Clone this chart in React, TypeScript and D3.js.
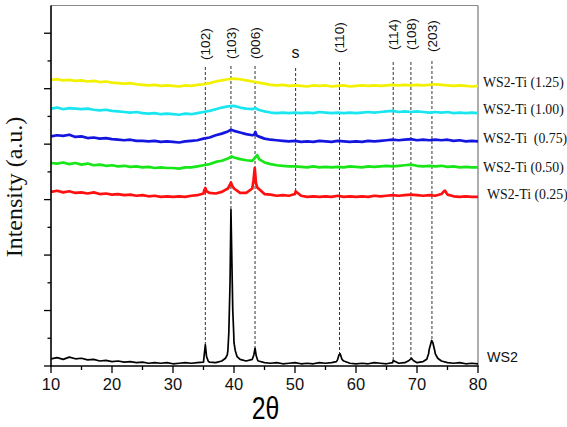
import * as d3 from 'd3'

// 2θ grid for the baseline readings (one reading per degree, 10..80)
const baseAngles = d3.range(10, 81)

const seriesNames = ['WS2', 'WS2-Ti (0.25)', 'WS2-Ti (0.50)', 'WS2-Ti  (0.75)', 'WS2-Ti (1.00)', 'WS2-Ti (1.25)']
const seriesColors = ['#000000', '#ff1010', '#19e619', '#1515e0', '#19e6f0', '#f2f200']

// baseline intensities (a.u., one tick = 1)
const ws2Base = [
  0.13, 0.15, 0.12, 0.16, 0.13, 0.14, 0.11, 0.12, 0.09, 0.10,
  0.08, 0.09, 0.07, 0.08, 0.06, 0.07, 0.05, 0.06, 0.05, 0.06,
  0.04, 0.05, 0.06, 0.05, 0.06, 0.07, 0.07, 0.06, 0.09, 0.28,
  0.42, 0.12, 0.09, 0.12, 0.09, 0.06, 0.05, 0.06, 0.04, 0.05,
  0.06, 0.04, 0.05, 0.04, 0.06, 0.05, 0.06, 0.12, 0.09, 0.05,
  0.04, 0.05, 0.04, 0.06, 0.05, 0.04, 0.06, 0.05, 0.06, 0.13,
  0.06, 0.08, 0.30, 0.22, 0.09, 0.06, 0.05, 0.06, 0.04, 0.05,
  0.04,
]
const ws2Peaks: [number, number][] = [
  [35.1, 0.18], [35.3, 0.38], [35.5, 0.17], [35.8, 0.08],
  [38.6, 0.14], [38.9, 0.2], [39.15, 0.6], [39.35, 1.5], [39.5, 2.82], [39.65, 1.9],
  [39.8, 1.0], [39.95, 0.6], [40.2, 0.28], [40.5, 0.17],
  [43.25, 0.2], [43.45, 0.32], [43.65, 0.18], [43.9, 0.1],
  [56.8, 0.08], [57.2, 0.2], [57.4, 0.22], [57.7, 0.12],
  [66.1, 0.1], [68.7, 0.1], [69.1, 0.14], [69.4, 0.1],
  [71.6, 0.12], [71.9, 0.22], [72.2, 0.38], [72.4, 0.46], [72.6, 0.42], [72.9, 0.28], [73.4, 0.14],
]

const ti025Base = [
  3.14, 3.16, 3.13, 3.15, 3.12, 3.13, 3.11, 3.13, 3.10, 3.11,
  3.09, 3.10, 3.08, 3.09, 3.07, 3.08, 3.06, 3.07, 3.05, 3.06,
  3.05, 3.06, 3.05, 3.07, 3.08, 3.11, 3.12, 3.11, 3.14, 3.20,
  3.20, 3.12, 3.12, 3.20, 3.20, 3.10, 3.09, 3.07, 3.08, 3.07,
  3.10, 3.07, 3.05, 3.06, 3.05, 3.06, 3.05, 3.07, 3.05, 3.06,
  3.05, 3.06, 3.05, 3.07, 3.06, 3.07, 3.08, 3.07, 3.08, 3.09,
  3.08, 3.07, 3.08, 3.07, 3.10, 3.09, 3.06, 3.05, 3.06, 3.05,
  3.05,
]
const ti025Peaks: [number, number][] = [
  [35.1, 3.16], [35.3, 3.21], [35.5, 3.15], [39.3, 3.26], [39.5, 3.31], [39.7, 3.25],
  [43.2, 3.35], [43.4, 3.57], [43.6, 3.3], [43.8, 3.22], [50.1, 3.15], [74.4, 3.15], [74.6, 3.16],
]

const ti050Base = [
  3.66, 3.65, 3.67, 3.64, 3.66, 3.63, 3.65, 3.62, 3.63, 3.61,
  3.62, 3.60, 3.61, 3.59, 3.60, 3.58, 3.59, 3.57, 3.58, 3.57,
  3.57, 3.56, 3.58, 3.58, 3.60, 3.62, 3.64, 3.68, 3.70, 3.74,
  3.76, 3.73, 3.71, 3.70, 3.76, 3.67, 3.64, 3.62, 3.61, 3.60,
  3.60, 3.59, 3.58, 3.60, 3.58, 3.59, 3.58, 3.59, 3.58, 3.60,
  3.59, 3.58, 3.60, 3.59, 3.60, 3.61, 3.60, 3.61, 3.62, 3.63,
  3.61, 3.60, 3.61, 3.60, 3.61, 3.59, 3.60, 3.58, 3.59, 3.58,
  3.58,
]
const ti050Peaks: [number, number][] = [[39.6, 3.78], [43.8, 3.8], [44.1, 3.73]]

const ti075Base = [
  4.14, 4.16, 4.15, 4.17, 4.13, 4.14, 4.11, 4.12, 4.10, 4.11,
  4.09, 4.08, 4.07, 4.08, 4.06, 4.06, 4.05, 4.06, 4.04, 4.05,
  4.04, 4.03, 4.05, 4.06, 4.07, 4.10, 4.12, 4.16, 4.19, 4.23,
  4.24, 4.21, 4.18, 4.16, 4.14, 4.10, 4.08, 4.07, 4.06, 4.05,
  4.06, 4.04, 4.05, 4.04, 4.06, 4.05, 4.04, 4.06, 4.05, 4.04,
  4.05, 4.04, 4.06, 4.05, 4.06, 4.07, 4.08, 4.07, 4.08, 4.09,
  4.07, 4.08, 4.07, 4.08, 4.07, 4.08, 4.06, 4.07, 4.05, 4.06,
  4.05,
]
const ti075Peaks: [number, number][] = [[39.5, 4.26], [43.3, 4.17], [43.5, 4.22], [43.7, 4.16]]

const ti100Base = [
  4.64, 4.66, 4.63, 4.65, 4.64, 4.63, 4.64, 4.62, 4.61, 4.62,
  4.60, 4.59, 4.58, 4.57, 4.58, 4.56, 4.55, 4.56, 4.54, 4.55,
  4.54, 4.53, 4.55, 4.54, 4.56, 4.58, 4.60, 4.63, 4.66, 4.68,
  4.69, 4.66, 4.64, 4.63, 4.62, 4.59, 4.57, 4.56, 4.57, 4.56,
  4.57, 4.56, 4.57, 4.56, 4.58, 4.57, 4.56, 4.57, 4.56, 4.57,
  4.56, 4.57, 4.58, 4.57, 4.58, 4.59, 4.60, 4.58, 4.59, 4.58,
  4.59, 4.58, 4.57, 4.58, 4.57, 4.58, 4.56, 4.57, 4.56, 4.57,
  4.56,
]
const ti100Peaks: [number, number][] = [[43.5, 4.65]]

const ti125Base = [
  5.16, 5.17, 5.15, 5.16, 5.14, 5.15, 5.13, 5.14, 5.12, 5.13,
  5.11, 5.10, 5.09, 5.10, 5.08, 5.07, 5.06, 5.07, 5.05, 5.06,
  5.05, 5.04, 5.06, 5.05, 5.07, 5.08, 5.10, 5.13, 5.15, 5.17,
  5.18, 5.17, 5.15, 5.13, 5.11, 5.09, 5.07, 5.06, 5.07, 5.05,
  5.06, 5.05, 5.04, 5.06, 5.05, 5.06, 5.04, 5.05, 5.06, 5.04,
  5.05, 5.06, 5.05, 5.06, 5.05, 5.06, 5.07, 5.06, 5.07, 5.06,
  5.07, 5.06, 5.07, 5.08, 5.07, 5.06, 5.05, 5.06, 5.05, 5.04,
  5.05,
]
const ti125Peaks: [number, number][] = [[43.5, 5.12]]

// reflections marked with dashed lines
const reflectionPos = [35.3, 39.5, 43.45, 50.1, 57.3, 66.1, 69.0, 72.45]
const reflectionLabels = ['(102)', '(103)', '(006)', 's', '(110)', '(114)', '(108)', '(203)']
const reflectionTrace = [0, 0, 0, 1, 0, 0, 0, 0]

const xTicks = [10, 20, 30, 40, 50, 60, 70, 80]
const xMinorTicks = [15, 25, 35, 45, 55, 65, 75]
const yTicks = [0, 1, 2, 3, 4, 5, 6]
const yMinorTicks = [0.5, 1.5, 2.5, 3.5, 4.5, 5.5]

const merge = (base: number[], peaks: [number, number][]) =>
  base
    .map((v, i) => [baseAngles[i], v] as [number, number])
    .concat(peaks)
    .sort((a, b) => a[0] - b[0])

const series = [
  merge(ws2Base, ws2Peaks),
  merge(ti025Base, ti025Peaks),
  merge(ti050Base, ti050Peaks),
  merge(ti075Base, ti075Peaks),
  merge(ti100Base, ti100Peaks),
  merge(ti125Base, ti125Peaks),
]

const W = 567
const H = 427
const left = 51
const right = 478
const top = 5.5
const bottom = 366

const sans = "'Liberation Sans', Arial, sans-serif"
const serif = "'Liberation Serif', 'Times New Roman', serif"

export default function App() {
  const x = d3.scaleLinear().domain([10, 80]).range([left, right])
  const y = d3.scaleLinear().domain([0, 6.5]).range([bottom, top])
  const line = d3.line<[number, number]>().x(d => x(d[0])).y(d => y(d[1]))

  // peak value of a trace near a reflection, where its dashed line stops
  const valueNear = (pts: [number, number][], pos: number) =>
    d3.max(pts.filter(p => Math.abs(p[0] - pos) <= 0.35), p => p[1]) ?? 0

  // where the rotated labels start and the dashed lines begin (px)
  const labelBase = [60, 59, 59, 58, 53, 50, 50, 52]
  const lineTop = [67, 66, 66, 68, 62, 62, 62, 61]
  const legendY = [362, 198.5, 171.5, 142.5, 113.5, 86.5]
  const legendX = [487, 487, 483, 483, 483, 483]

  return (
    <svg width={W} height={H} style={{ position: 'absolute', left: 0, top: 0, background: '#fff' }}>
      {/* frame */}
      <line x1={left} x2={right} y1={top} y2={top} stroke="#8a8a8a" strokeWidth={1.2} />
      <line x1={right} x2={right} y1={top} y2={bottom} stroke="#8a8a8a" strokeWidth={1.4} />

      {/* reflection markers */}
      {reflectionPos.map((p, i) => (
        <g key={'r' + i}>
          <line
            x1={x(p)} x2={x(p)} y1={lineTop[i]}
            y2={y(valueNear(series[reflectionTrace[i]], p))}
            stroke="#333" strokeWidth={1} strokeDasharray="3,2"
          />
          {reflectionLabels[i] === 's' ? (
            <text x={x(p)} y={labelBase[i]} textAnchor="middle" fontFamily={sans} fontSize={16} fill="#111">s</text>
          ) : (
            <text
              transform={`translate(${x(p) + 4.8},${labelBase[i]}) rotate(-90)`}
              fontFamily={sans} fontSize={13.6} fill="#111"
            >{reflectionLabels[i]}</text>
          )}
        </g>
      ))}

      {/* traces */}
      {series.map((pts, i) => (
        <path key={'s' + i} d={line(pts) ?? ''} fill="none" stroke={seriesColors[i]}
          strokeWidth={i === 0 ? 1.7 : 2.7} strokeLinejoin="round" />
      ))}

      {/* axes */}
      <line x1={left} x2={left} y1={top} y2={bottom + 0.8} stroke="#000" strokeWidth={1.6} />
      <line x1={left - 0.8} x2={right + 0.7} y1={bottom} y2={bottom} stroke="#000" strokeWidth={1.6} />
      {yTicks.map(t => (
        <line key={'yt' + t} x1={left - 7} x2={left} y1={y(t)} y2={y(t)} stroke="#000" strokeWidth={1.3} />
      ))}
      {yMinorTicks.map(t => (
        <line key={'ym' + t} x1={left - 3.5} x2={left} y1={y(t)} y2={y(t)} stroke="#000" strokeWidth={1.3} />
      ))}
      {xTicks.map(t => (
        <g key={'xt' + t}>
          <line x1={x(t)} x2={x(t)} y1={bottom} y2={bottom + 7} stroke="#000" strokeWidth={1.3} />
          <text x={x(t)} y={390} textAnchor="middle" fontFamily={sans} fontSize={16.5} fill="#111">{t}</text>
        </g>
      ))}
      {xMinorTicks.map(t => (
        <line key={'xm' + t} x1={x(t)} x2={x(t)} y1={bottom} y2={bottom + 4} stroke="#000" strokeWidth={1.3} />
      ))}

      {/* series labels */}
      {seriesNames.map((n, i) => (
        <text key={'l' + i} x={legendX[i]} y={legendY[i]} fontFamily={i === 0 ? sans : serif}
          fontSize={i === 0 ? 14.3 : 13.8} fill="#111" style={{ whiteSpace: 'pre' }}>{n}</text>
      ))}

      {/* axis titles */}
      <text transform="translate(22,187) rotate(-90)" textAnchor="middle" fontFamily={serif} fontSize={24} fill="#111">
        Intensity (a.u.)
      </text>
      <text transform="translate(265.5,419.3) scale(0.8,1)" textAnchor="middle" fontFamily={sans} fontSize={31} fill="#000">2θ</text>
    </svg>
  )
}
